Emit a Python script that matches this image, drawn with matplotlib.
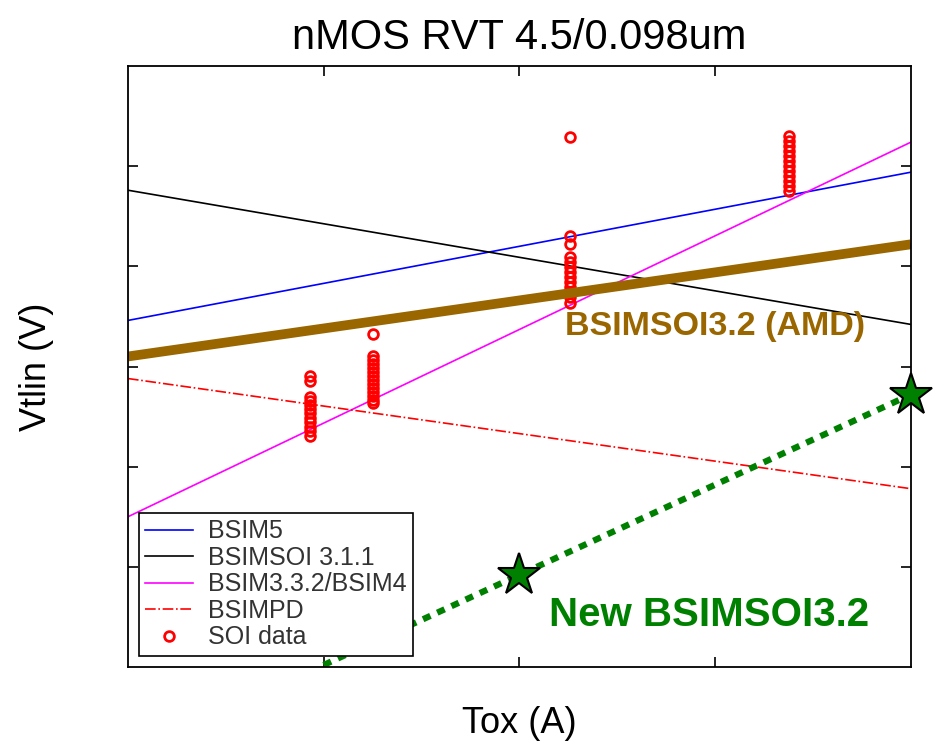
import matplotlib.pyplot as plt

plt.rcParams['font.family'] = ['Liberation Sans', 'DejaVu Sans']

# model curves: Vtlin vs Tox at the two ends of the sweep
tox_span = [20, 28]
vt_bsim5 = [0.323, 0.397]
vt_bsimsoi311 = [0.388, 0.321]
vt_bsim4 = [0.225, 0.412]
vt_bsimpd = [0.294, 0.239]
vt_amd = [0.305, 0.361]

# new BSIMSOI3.2 fit and its two reference points
tox_new = [22, 24, 28]
vt_new = [0.151, 0.196, 0.286]
tox_star = [24, 28]
vt_star = [0.196, 0.286]

# measured SOI devices, grouped by oxide thickness
soi_tox = [21.86, 22.5, 24.52, 26.75]
soi_vt = [
    [0.2953, 0.2928, 0.2848, 0.2828, 0.2808, 0.2788, 0.2768, 0.2743, 0.2723, 0.2699, 0.2679, 0.2654],
    [0.3163, 0.3053, 0.3033, 0.3013, 0.2993, 0.2973, 0.2953, 0.2933, 0.2913, 0.2893, 0.2873, 0.2853,
     0.2833, 0.2818],
    [0.4146, 0.3652, 0.3612, 0.3547, 0.3522, 0.3497, 0.3472, 0.3447, 0.3422, 0.3397, 0.3372, 0.3347,
     0.3317],
    [0.4151, 0.4126, 0.4101, 0.4076, 0.4051, 0.4026, 0.4001, 0.3976, 0.3951, 0.3926, 0.3901, 0.3876],
]

fig = plt.figure(figsize=(9.34, 7.45), dpi=100)
ax = fig.add_axes([0.137, 0.1047, 0.8383, 0.8067])

ax.plot(tox_span, vt_bsim5, color='#0000ff', lw=1.2, label='BSIM5')
ax.plot(tox_span, vt_bsimsoi311, color='#000000', lw=1.2, label='BSIMSOI 3.1.1')
ax.plot(tox_span, vt_bsim4, color='#ff00ff', lw=1.2, label='BSIM3.3.2/BSIM4')
ax.plot(tox_span, vt_bsimpd, color='#ff0000', lw=1.2, ls='-.', label='BSIMPD')

first = True
for t, vals in zip(soi_tox, soi_vt):
    ax.plot([t] * len(vals), vals, ls='none', marker='o', ms=7, mfc='none', mec='#ff0000',
            mew=2, label='SOI data' if first else None)
    first = False

ax.plot(tox_span, vt_amd, color='#996600', lw=7, solid_capstyle='butt')
ax.plot(tox_new, vt_new, color='#008000', lw=4.5, dashes=(1.3, 1.2))
ax.plot(tox_star, vt_star, ls='none', marker='*', ms=32, mfc='#008000', mec='black', mew=1.5,
        clip_on=False, zorder=5)

ax.text(24.47, 0.3155, 'BSIMSOI3.2 (AMD)', color='#996600', fontsize=24.5, fontweight='bold')
ax.text(24.3, 0.1705, 'New BSIMSOI3.2', color='#008000', fontsize=29, fontweight='bold')

ax.set_xlim(20, 28)
ax.set_ylim(0.15, 0.45)
ax.set_xticks([22, 24, 26])
ax.set_yticks([0.2, 0.25, 0.3, 0.35, 0.4])
ax.tick_params(direction='in', length=7, width=1.2, top=True, right=True,
               labelbottom=False, labelleft=False)
for s in ax.spines.values():
    s.set_linewidth(1.3)

ax.set_title('nMOS RVT 4.5/0.098um', fontsize=30, pad=12)
ax.set_xlabel('Tox (A)', fontsize=26, labelpad=28)
ax.set_ylabel('Vtlin (V)', fontsize=26, labelpad=53)

leg = ax.legend(loc='lower left', bbox_to_anchor=(0.0, 0.0), fontsize=18, labelspacing=0.1,
                handlelength=1.9, handletextpad=0.6, borderpad=0.25, fancybox=False,
                framealpha=1, edgecolor='black', borderaxespad=0.45)
leg.get_frame().set_linewidth(1.2)
for txt in leg.get_texts():
    txt.set_color('#333333')

fig.savefig('out.png', dpi=100)
